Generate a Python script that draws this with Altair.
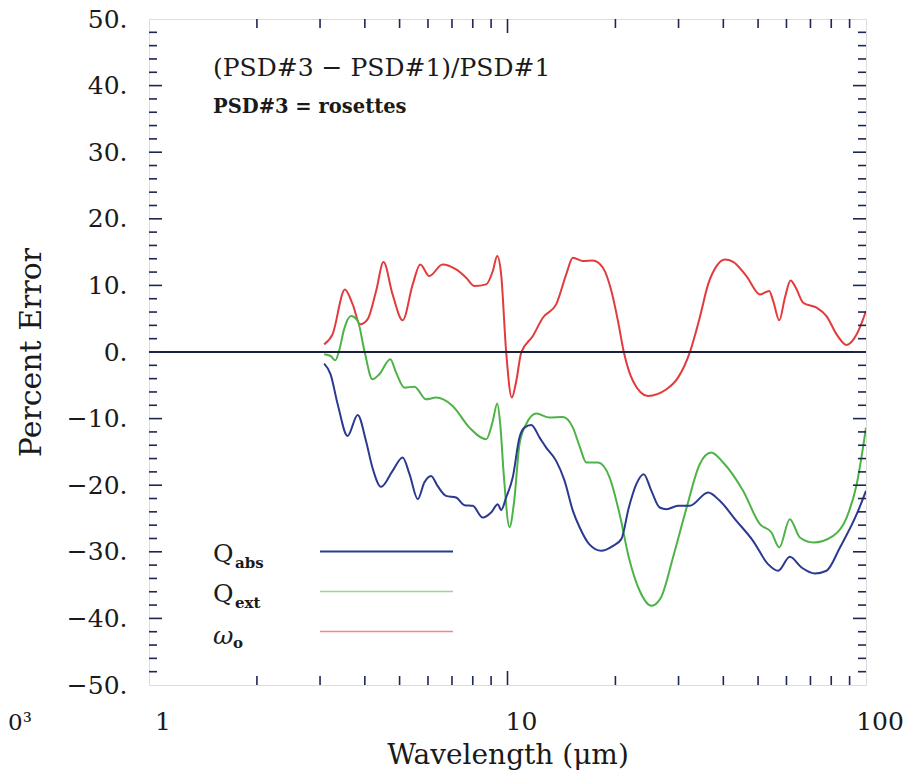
import altair as alt
import pandas as pd

# ---- data ----
red_wl = [3.08, 3.25, 3.52, 3.70, 3.88, 4.07, 4.30, 4.51, 4.78, 5.10, 5.44, 5.71, 6.05, 6.59, 7.19,
          7.67, 8.09, 8.72, 9.10, 9.36, 9.60, 9.91, 10.28, 10.58, 10.92, 11.77, 12.55, 13.67, 14.58,
          15.22, 16.23, 17.3, 18.46, 19.49, 20.33, 21.13, 22.39, 24.64, 27.76, 29.9, 32.23, 34.37,
          36.27, 38.28, 40.4, 42.6, 46.4, 50.6, 53.7, 55.1, 57.3, 59.4, 61.6, 63.7, 66.8, 72.8, 77.6,
          82.8, 88.3, 94.2, 100]
red_val = [1.15, 2.65, 9.4, 7.15, 4.15, 4.9, 9.15, 13.5, 8.65, 4.75, 10.15, 13.15, 11.4, 13.15, 12.4,
           11.15, 9.9, 10.15, 12.15, 14.4, 11.65, 0.15, -6.85, -4.35, -0.1, 2.4, 5.15, 7.15, 11.65,
           14.15, 13.65, 13.75, 12.65, 9.15, 4.65, -0.1, -4.35, -6.6, -5.6, -3.85, -0.1, 5.15,
           10.15, 12.9, 13.9, 13.55, 11.4, 8.65, 9.15, 7.65, 4.75, 8.15, 10.75, 9.65, 7.4, 6.65, 5.4,
           2.65, 1.05, 2.65, 6.15]

green_wl = [3.08, 3.21, 3.31, 3.39, 3.50, 3.66, 3.82, 3.99, 4.20, 4.39, 4.71, 4.89, 5.16, 5.50, 5.93,
            6.32, 7.03, 7.83, 8.72, 9.10, 9.36, 9.55, 9.75, 10.13, 10.44, 10.80, 11.27, 12.03, 13.1,
            14.27, 15.22, 15.9, 16.6, 17.9, 19.27, 20.55, 21.8, 23.37, 25.2, 26.8, 28.95, 31.6, 34.37,
            37.0, 39.95, 45.4, 50.6, 54.5, 57.3, 61.3, 65.4, 71.3, 81.0, 88.3, 94.2, 100]
green_val = [-0.35, -0.6, -1.25, 0.15, 3.4, 5.4, 4.65, 0.15, -4.1, -3.35, -1.1, -3.1, -5.35, -5.2, -7.1,
             -6.85, -8.1, -11.35, -13.1, -10.35, -7.75, -11.0, -18.0, -26.3, -22.35, -13.85, -10.85,
             -9.25, -9.85, -9.75, -11.35, -14.2, -16.6, -16.6, -18.85, -24.35, -30.85, -35.85, -38.1,
             -36.85, -30.85, -23.35, -16.85, -15.1, -16.6, -20.85, -25.85, -27.1, -29.35, -25.1,
             -27.85, -28.6, -27.6, -24.85, -19.85, -11.35]

blue_wl = [3.08, 3.21, 3.36, 3.58, 3.82, 4.03, 4.20, 4.44, 4.78, 5.10, 5.33, 5.62, 5.86, 6.12, 6.38,
           6.74, 7.19, 7.59, 8.0, 8.53, 9.0, 9.4, 9.6, 9.91, 10.34, 10.8, 11.15, 11.65, 12.29, 12.82,
           13.67, 14.43, 15.22, 15.9, 16.9, 18.27, 19.7, 20.77, 21.8, 22.87, 23.98, 25.2, 26.58,
           27.76, 29.9, 32.23, 36.27, 39.1, 43.5, 48.4, 53.3, 56.9, 61.3, 66.1, 72.1, 77.6, 84.6,
           94.2, 100]
blue_val = [-1.75, -3.35, -7.85, -12.6, -9.45, -13.35, -17.35, -20.25, -17.85, -15.85, -18.35, -22.1,
            -19.6, -18.6, -20.1, -21.6, -21.85, -23.0, -23.1, -24.85, -24.1, -22.85, -23.75, -21.85,
            -18.85, -12.85, -11.35, -10.95, -12.85, -14.35, -16.35, -19.35, -23.85, -26.35, -28.85,
            -29.85, -29.1, -28.1, -23.35, -19.85, -18.35, -20.85, -23.35, -23.6, -23.1, -23.1, -21.1,
            -22.35, -25.35, -28.35, -31.85, -32.85, -30.75, -32.35, -33.25, -32.85, -29.35, -24.35,
            -20.85]

series_names = ["Q_abs", "Q_ext", "omega"]
series_colors = ["#2b3990", "#4db346", "#e23b3b"]

x_labels = [1, 10, 100]
x_minor = [2, 3, 4, 5, 6, 7, 8, 9, 20, 30, 40, 50, 60, 70, 80, 90]
x_major = [10]
y_labels = list(range(-50, 51, 10))
y_minor = [v for v in range(-48, 49, 2) if v % 10 != 0]
y_major = list(range(-40, 41, 10))

# ---- build table ----
rows = []
for name, wl, val in [("omega", red_wl, red_val), ("Q_ext", green_wl, green_val),
                      ("Q_abs", blue_wl, blue_val)]:
    for i, (a, b) in enumerate(zip(wl, val)):
        rows.append({"series": name, "wl": a, "val": b, "order": i})
df = pd.DataFrame(rows)

W, H = 717, 666
FONT = "DejaVu Serif"
AX = "#1e2656"
TXT = "#1a1a1a"

xscale = alt.Scale(type="log", domain=[1, 100], nice=False)
yscale = alt.Scale(domain=[-50, 50], nice=False)

xaxis = alt.Axis(
    values=x_labels, labels=False, title="Wavelength (μm)",
    ticks=False, domain=False, grid=False,
    titleFont=FONT, titleFontSize=28, titleFontWeight="normal", titleColor=TXT,
    titlePadding=56)
yaxis = alt.Axis(
    values=y_labels,
    labelExpr="(datum.value < 0 ? '\u2212' + abs(datum.value) : '' + datum.value) + '.'",
    title="Percent Error", ticks=False, domain=False, grid=False, labelFlush=False,
    labelOverlap=False, labelFont=FONT, labelFontSize=25, labelColor=TXT, labelPadding=22,
    titleFont=FONT, titleFontSize=30, titleFontWeight="normal", titleColor=TXT,
    titlePadding=20)


def X(field):
    return alt.X(field, scale=xscale, axis=xaxis, title="Wavelength (μm)")


def Y(field):
    return alt.Y(field, scale=yscale, axis=yaxis, title="Percent Error")


lines = alt.Chart(df).mark_line(strokeWidth=2, interpolate="monotone", clip=True).encode(
    x=X("wl:Q"),
    y=Y("val:Q"),
    color=alt.Color("series:N", scale=alt.Scale(domain=series_names, range=series_colors),
                    legend=None),
    order="order:Q",
)

xlab = alt.Chart(pd.DataFrame({"wl": x_labels})).transform_calculate(
    s="'' + datum.wl").mark_text(font=FONT, fontSize=25, color=TXT, align="center",
                                 baseline="alphabetic", dx=14).encode(
    x=X("wl:Q"), y=alt.value(H + 45), text="s:N")

zero = alt.Chart(pd.DataFrame({"val": [0]})).mark_rule(color="#1a1f3a", strokeWidth=2).encode(
    y=Y("val:Q"))


def yticks(vals, x0, x1):
    return alt.Chart(pd.DataFrame({"val": vals})).mark_rule(color=AX, strokeWidth=1.6).encode(
        y=Y("val:Q"), x=alt.value(x0), x2=alt.value(x1))


def xticks(vals, y0, y1):
    return alt.Chart(pd.DataFrame({"wl": vals})).mark_rule(color=AX, strokeWidth=1.6).encode(
        x=X("wl:Q"), y=alt.value(y0), y2=alt.value(y1))


ticks = [
    yticks(y_minor, 0, 8), yticks(y_major, 0, 13),
    yticks(y_minor, W - 8, W), yticks(y_major, W - 13, W),
    xticks(x_minor, H, H - 9), xticks(x_major, H, H - 14),
    xticks(x_minor, 0, 9), xticks(x_major, 0, 14),
]


def label(text, x, y, size, weight="normal", style="normal", color=TXT, align="left"):
    return alt.Chart(pd.DataFrame({"t": [text]})).mark_text(
        font=FONT, fontSize=size, fontWeight=weight, fontStyle=style, color=color,
        align=align, baseline="alphabetic").encode(
        text="t:N", x=alt.value(x), y=alt.value(y))


def legline(y, color, width, opacity):
    return alt.Chart(pd.DataFrame({"a": [0]})).mark_rule(
        color=color, strokeWidth=width, opacity=opacity).encode(
        x=alt.value(171), x2=alt.value(304), y=alt.value(y))


texts = [
    label("(PSD#3 \u2212 PSD#1)/PSD#1", 64, 57, 25),
    label("PSD#3 = rosettes", 64, 93.5, 19.5, weight="bold"),
    label("Q", 64, 542.5, 25), label("abs", 86, 549, 15, weight="bold"),
    label("Q", 64, 582.5, 25), label("ext", 86, 588.5, 15, weight="bold"),
    label("\u03c9", 64, 624.5, 25, style="italic"), label("o", 84, 628.5, 15, weight="bold"),
    label("0\u00b3", -141, H + 45, 23),
    legline(532.5, series_colors[0], 1.8, 1.0),
    legline(572.5, series_colors[1], 1.6, 0.55),
    legline(612.5, series_colors[2], 1.4, 0.6),
]

chart = alt.layer(lines, xlab, zero, *ticks, *texts).properties(
    width=W, height=H,
    autosize=alt.AutoSizeParams(type="none"),
    padding={"left": 141, "top": 11, "right": 40, "bottom": 89},
).configure_view(stroke=AX, strokeWidth=2).configure(background="white")

chart.save("out.html", embed_options={"renderer": "svg", "actions": False})
